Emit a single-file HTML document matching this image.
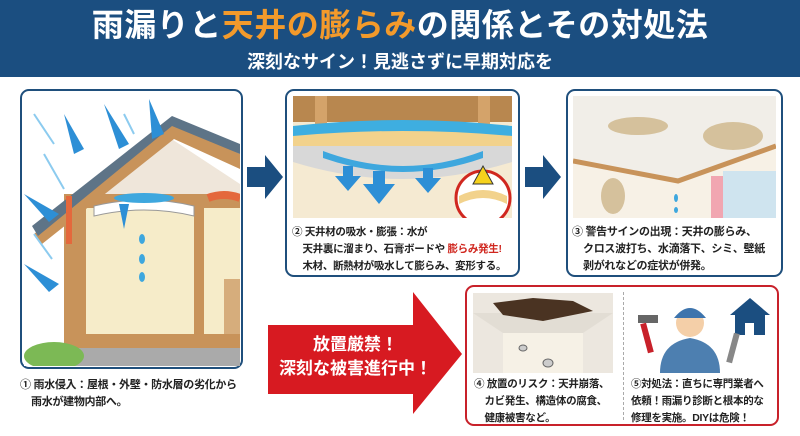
<!DOCTYPE html>
<html><head><meta charset="utf-8"><style>
*{margin:0;padding:0;box-sizing:border-box}
body{width:800px;height:436px;background:#fff;font-family:"Liberation Sans","Noto Sans CJK JP",sans-serif;position:relative;overflow:hidden;color:#222}
.hdr{position:absolute;left:0;top:0;width:800px;height:77px;background:#1b4e80}
.t1{position:absolute;top:5px;width:800px;text-align:center;color:#fff;font-size:32px;line-height:40px;font-weight:bold;letter-spacing:0.5px;white-space:nowrap}
.t1 span{color:#f39a2b}
.t2{position:absolute;top:50px;width:800px;text-align:center;color:#fff;font-size:18px;line-height:24px;font-weight:bold}
.box{position:absolute;border:2px solid #1f4f7c;border-radius:9px;background:#fff}
.cap{position:absolute;font-size:11px;font-weight:bold;line-height:17px;color:#222;letter-spacing:-0.3px;white-space:nowrap}
.abs{position:absolute}
</style></head><body>
<div class="hdr"></div>
<div class="t1">雨漏りと<span>天井の膨らみ</span>の関係とその対処法</div>
<div class="t2">深刻なサイン！見逃さずに早期対応を</div>

<!-- panel 1 -->
<div class="box" style="left:20px;top:89px;width:223px;height:280px"></div>
<svg class="abs" style="left:24px;top:94px" width="216" height="272" viewBox="0 0 216 272">
<rect width="216" height="272" fill="#fff"/>
<polygon points="40,110 140,40 216,90 216,272 40,272" fill="#efe6da"/>
<rect x="60" y="112" width="156" height="140" fill="#f6ecc9"/>
<rect x="40" y="100" width="22" height="165" fill="#c8935a"/>
<rect x="40" y="100" width="176" height="14" fill="#c8935a"/>
<rect x="40" y="240" width="176" height="14" fill="#c8935a"/>
<rect x="170" y="112" width="10" height="140" fill="#c8935a"/>
<rect x="200" y="185" width="16" height="55" fill="#d6ad7c"/>
<polygon points="10,140 150,30 216,60 216,75 150,45 18,150" fill="#c8935a"/>
<polygon points="8,132 148,22 216,50 216,60 148,32 14,142" fill="#5e7487"/>
<path d="M70,112 Q120,100 170,112 L170,122 Q120,110 70,122Z" fill="#fff" stroke="#999"/>
<ellipse cx="120" cy="104" rx="30" ry="5" fill="#3ea7de"/>
<rect x="40" y="254" width="176" height="18" fill="#aaa"/>
<ellipse cx="30" cy="262" rx="30" ry="14" fill="#7cb955"/>
<path d="M184,104 Q200,98 216,104" stroke="#e4683c" stroke-width="8" fill="none"/>
<path d="M45,102 L45,150" stroke="#e4683c" stroke-width="6"/>
<g fill="#2d8fd6"><polygon points="40,20 60,55 50,60"/><polygon points="80,10 105,50 95,55"/><polygon points="125,5 140,40 128,45"/><polygon points="0,100 35,120 25,128"/><polygon points="0,170 35,190 25,198"/><polygon points="95,110 100,135 105,110"/></g>
<g fill="#3ea7de"><ellipse cx="118" cy="145" rx="3" ry="5"/><ellipse cx="118" cy="165" rx="3" ry="5"/><ellipse cx="118" cy="183" rx="3" ry="5"/></g>
<g stroke="#8ccbef" stroke-width="2"><line x1="10" y1="20" x2="30" y2="50"/><line x1="20" y1="60" x2="40" y2="95"/><line x1="100" y1="20" x2="110" y2="40"/><line x1="10" y1="140" x2="28" y2="165"/></g>
</svg>
<div class="cap" style="left:20px;top:377px">① 雨水侵入：屋根・外壁・防水層の劣化から<br>&nbsp;&nbsp;&nbsp;&nbsp;雨水が建物内部へ。</div>

<!-- arrow 1 -->
<svg class="abs" style="left:247px;top:155px" width="36" height="44"><polygon points="0,12 18,12 18,0 36,22 18,44 18,32 0,32" fill="#1b4e80"/></svg>

<!-- panel 2 -->
<div class="box" style="left:285px;top:89px;width:235px;height:188px"></div>
<svg class="abs" style="left:293px;top:96px" width="219" height="122" viewBox="0 0 219 122">
<rect width="219" height="122" fill="#f5ead2"/>
<rect width="219" height="26" fill="#b8874f"/>
<rect x="22" y="0" width="12" height="50" fill="#d4a36a"/>
<rect x="185" y="0" width="12" height="50" fill="#d4a36a"/>
<rect x="0" y="30" width="219" height="25" fill="#f2d28c"/>
<path d="M0,30 Q110,18 219,30 L219,40 Q110,30 0,40Z" fill="#3eaee0"/>
<path d="M0,50 L219,50 L219,66 Q110,100 0,66Z" fill="#d8d8d8"/>
<path d="M30,55 Q110,85 190,55 L190,62 Q110,90 30,62Z" fill="#3ea7de"/>
<g fill="#2d8fd6"><polygon points="50,70 60,70 60,80 68,80 55,95 42,80 50,80"/><polygon points="80,75 92,75 92,88 102,88 86,108 70,88 80,88"/><polygon points="130,72 140,72 140,82 148,82 135,97 122,82 130,82"/></g>
<circle cx="190" cy="102" r="27" fill="#fff" stroke="#d0271f" stroke-width="3"/>
<path d="M166,100 Q190,88 214,100 L214,108 Q190,96 166,108Z" fill="#f2d28c"/>
<polygon points="190,70 180,88 200,88" fill="#f6d21c" stroke="#333"/>
</svg>
<div class="cap" style="left:292px;top:224px;font-size:10.5px">② 天井材の吸水・膨張：水が<br>&nbsp;&nbsp;&nbsp;&nbsp;天井裏に溜まり、石膏ボードや <span style="color:#d0271f">膨らみ発生!</span><br>&nbsp;&nbsp;&nbsp;&nbsp;木材、断熱材が吸水して膨らみ、変形する。</div>

<!-- arrow 2 -->
<svg class="abs" style="left:525px;top:155px" width="36" height="44"><polygon points="0,12 18,12 18,0 36,22 18,44 18,32 0,32" fill="#1b4e80"/></svg>

<!-- panel 3 -->
<div class="box" style="left:566px;top:89px;width:217px;height:188px"></div>
<svg class="abs" style="left:573px;top:96px" width="203" height="122" viewBox="0 0 203 122">
<rect width="203" height="122" fill="#f1eee8"/>
<polygon points="0,65 105,85 203,50 203,122 0,122" fill="#f7f1e6"/>
<polyline points="0,65 105,85 203,50" stroke="#c8935a" stroke-width="5" fill="none"/>
<ellipse cx="65" cy="30" rx="30" ry="9" fill="#d5c19c"/>
<ellipse cx="160" cy="40" rx="30" ry="14" fill="#d5c19c"/>
<ellipse cx="40" cy="100" rx="12" ry="18" fill="#d5c19c"/>
<rect x="150" y="75" width="53" height="47" fill="#cfe4ef"/>
<rect x="138" y="80" width="12" height="42" fill="#f1a6b1"/>
<g fill="#3ea7de"><ellipse cx="103" cy="102" rx="2" ry="4"/><ellipse cx="103" cy="114" rx="2" ry="3"/></g>
</svg>
<div class="cap" style="left:572px;top:224px">③ 警告サインの出現：天井の膨らみ、<br>&nbsp;&nbsp;&nbsp;&nbsp;クロス波打ち、水滴落下、シミ、壁紙<br>&nbsp;&nbsp;&nbsp;&nbsp;剥がれなどの症状が併発。</div>

<!-- red arrow -->
<svg class="abs" style="left:268px;top:292px" width="196" height="124"><polygon points="0,33 145,33 145,0 194,62 145,122 145,102 0,102" fill="#d71a21"/></svg>
<div class="abs" style="left:268px;top:333px;width:175px;text-align:center;color:#fff;font-size:17px;font-weight:bold;line-height:24px;white-space:nowrap">放置厳禁！<br>深刻な被害進行中！</div>

<!-- red box -->
<div class="box" style="left:465px;top:285px;width:314px;height:141px;border-color:#c8212a"></div>
<div class="abs" style="left:623px;top:292px;height:128px;border-left:1px dashed #aaa"></div>
<svg class="abs" style="left:473px;top:293px" width="140" height="80" viewBox="0 0 140 80">
<rect width="140" height="80" fill="#ece7df"/>
<polygon points="0,20 140,20 110,40 30,40" fill="#e2ddd4"/>
<rect x="30" y="40" width="80" height="40" fill="#f6f1e6"/>
<polygon points="20,10 60,5 100,8 120,18 70,28 30,22" fill="#4a3322"/>
<g fill="#ccc" stroke="#666"><ellipse cx="50" cy="55" rx="4" ry="3"/><ellipse cx="75" cy="70" rx="5" ry="4"/></g>
</svg>
<svg class="abs" style="left:630px;top:293px" width="140" height="80" viewBox="0 0 140 80">
<polygon points="120,5 140,22 100,22" fill="#1b4e80"/><rect x="105" y="22" width="30" height="20" fill="#1b4e80"/><rect x="115" y="30" width="9" height="12" fill="#fff"/>
<path d="M30,80 Q30,50 60,45 Q90,50 90,80Z" fill="#4d7fb0"/>
<circle cx="60" cy="30" r="14" fill="#f4cfa8"/>
<path d="M44,25 Q60,5 76,25Z" fill="#3d74ad"/>
<rect x="14" y="30" width="6" height="30" fill="#c8212a" transform="rotate(-15 17 45)"/>
<rect x="8" y="22" width="20" height="8" fill="#666"/>
<rect x="100" y="40" width="6" height="30" fill="#888" transform="rotate(15 103 55)"/>
</svg>
<div class="cap" style="left:474px;top:376px;font-size:10.5px">④ 放置のリスク：天井崩落、<br>&nbsp;&nbsp;&nbsp;&nbsp;カビ発生、構造体の腐食、<br>&nbsp;&nbsp;&nbsp;&nbsp;健康被害など。</div>
<div class="cap" style="left:631px;top:376px;font-size:10.5px">⑤対処法：直ちに専門業者へ<br>依頼！雨漏り診断と根本的な<br>修理を実施。DIYは危険！</div>
</body></html>
